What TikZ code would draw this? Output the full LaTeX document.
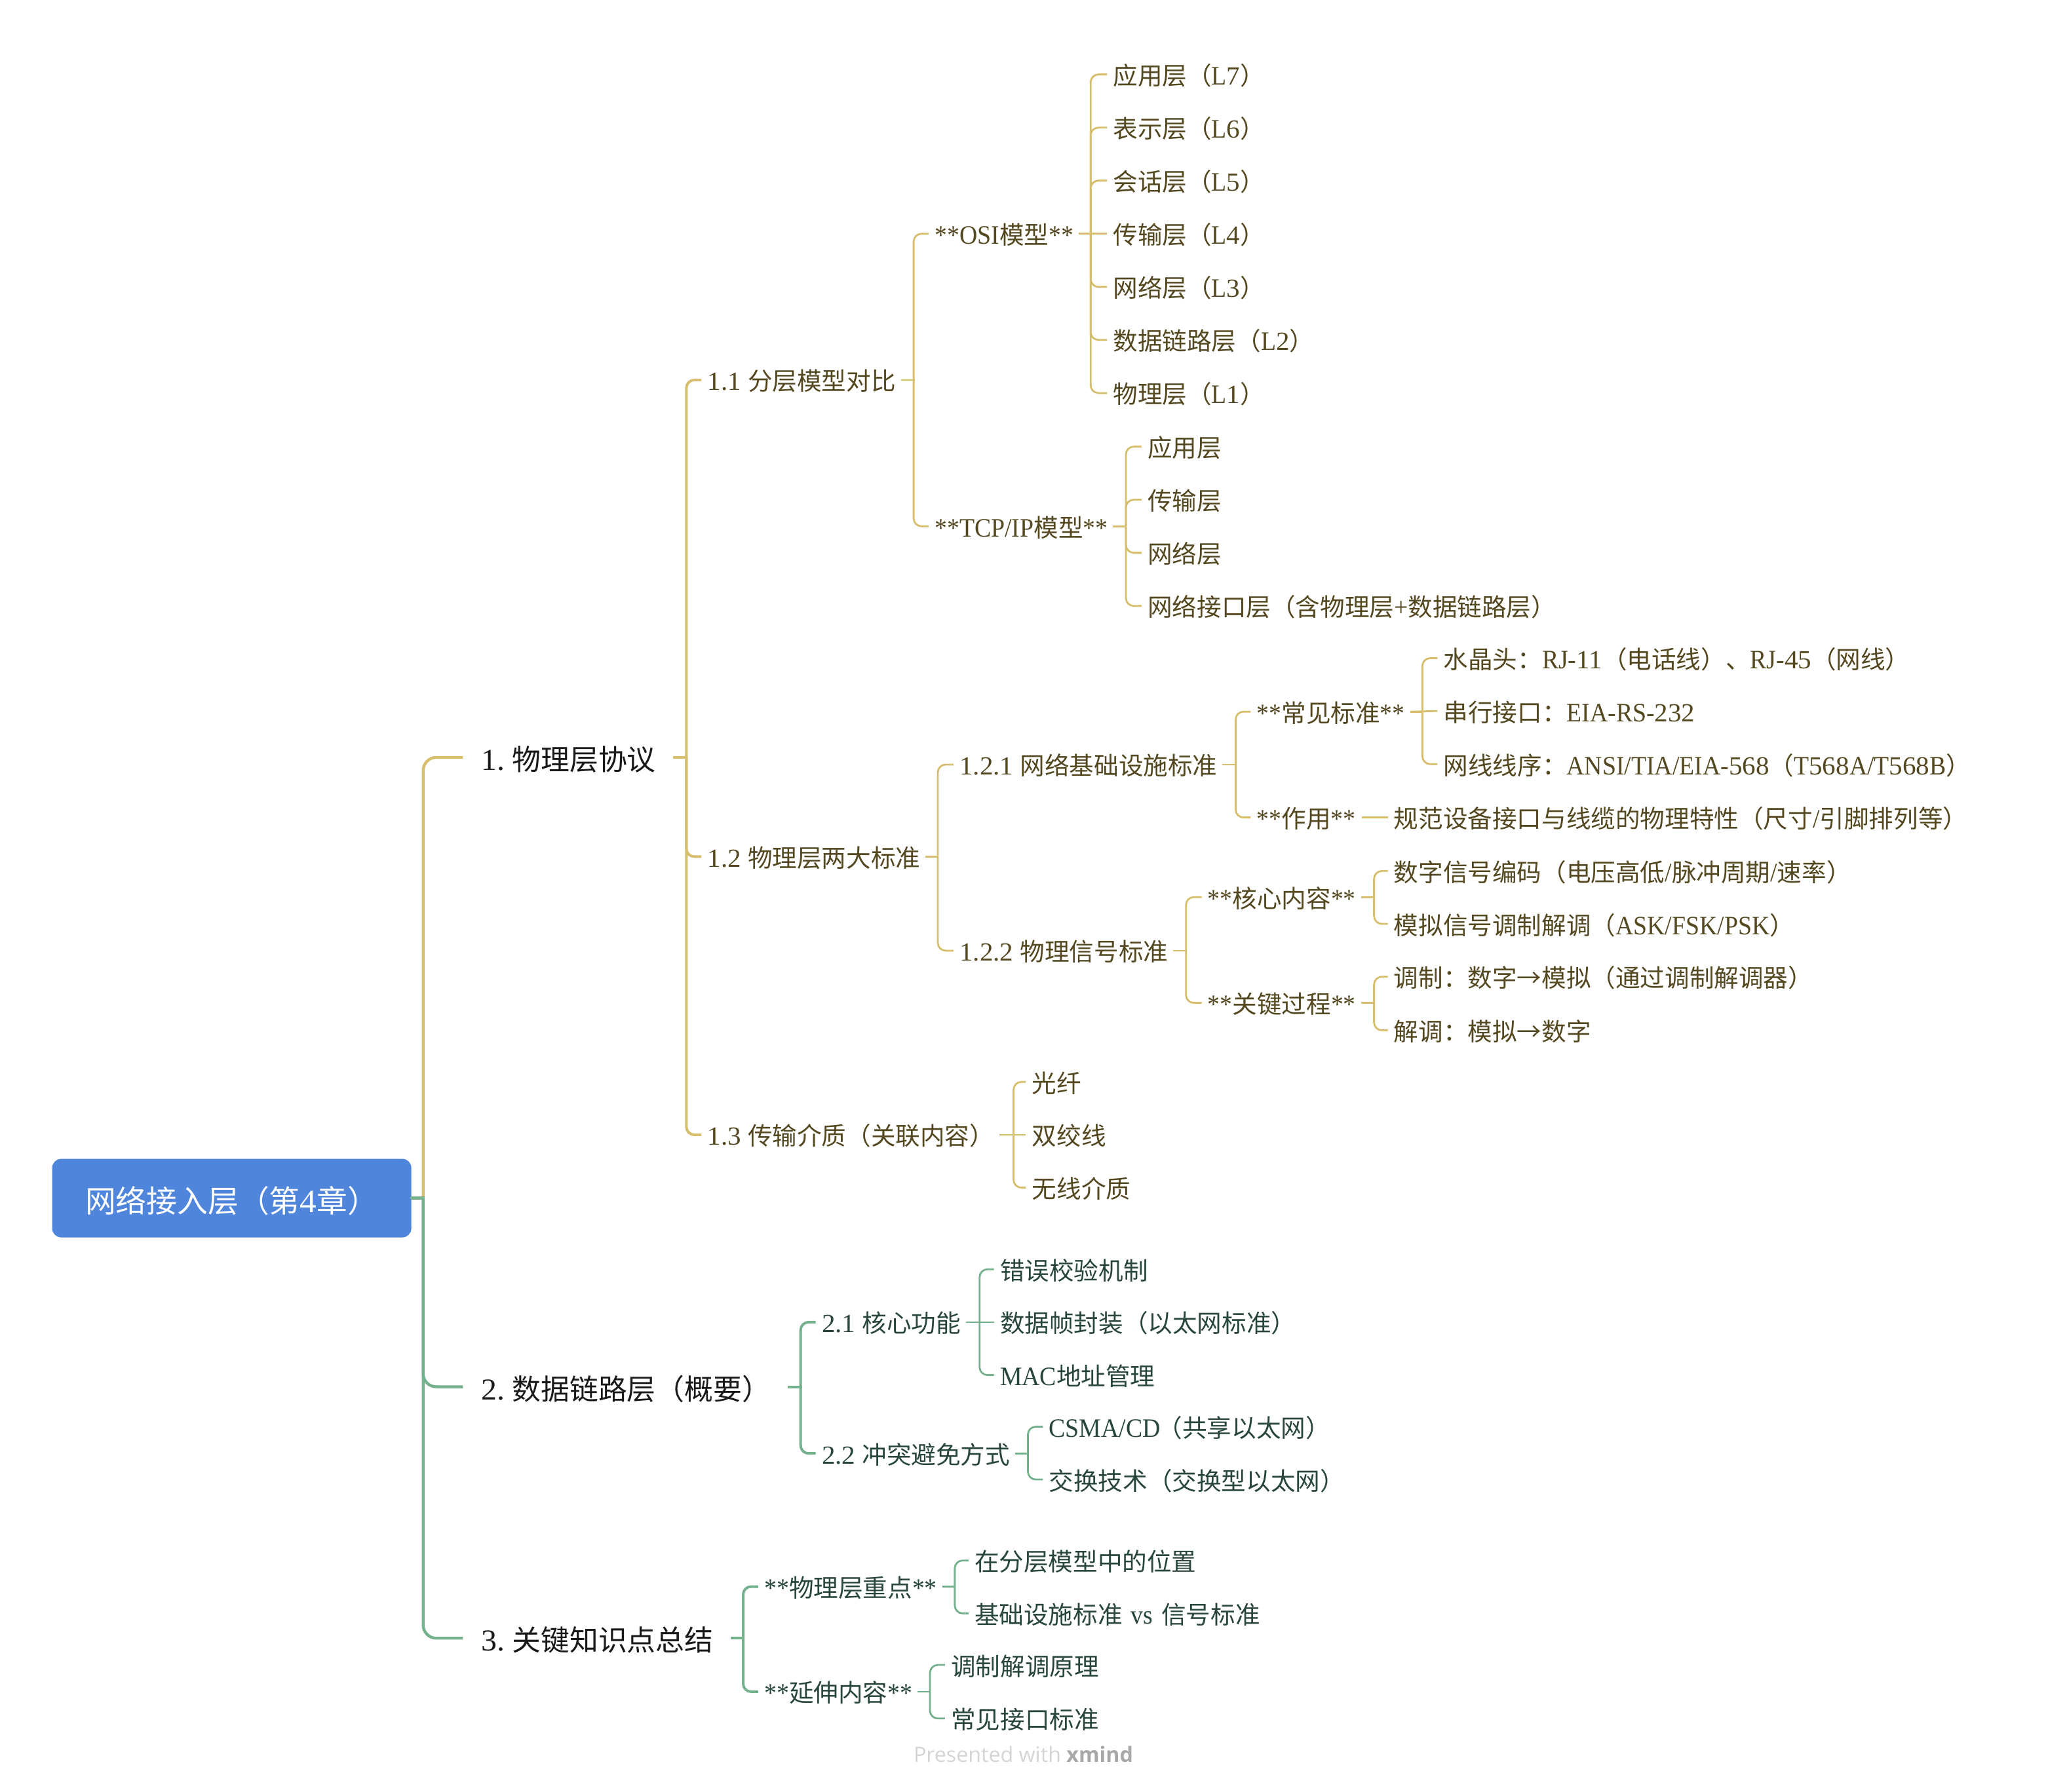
\documentclass[tikz,border=0pt]{standalone}
\usepackage{fontspec}
\setmainfont[Scale=1.08,FakeStretch=0.93]{Liberation Serif}
\newfontfamily\dgf[Scale=1.06,FakeStretch=1.03]{Liberation Serif}
\newfontfamily\cjkf{Noto Sans CJK SC}
\newfontfamily\wmf{Open Sans}
\newcommand\latf{\rmfamily}
\XeTeXinterchartokenstate=1
\newXeTeXintercharclass\cjkclass
\newXeTeXintercharclass\dgclass
\newcount\cc
\newcommand\setrange[3]{\cc=#1\relax\loop\XeTeXcharclass\cc=#3\relax\ifnum\cc<#2\relax\advance\cc by 1\relax\repeat}
\setrange{"4E00}{"9FFF}{\cjkclass}
\setrange{"3000}{"303F}{\cjkclass}
\setrange{"FF00}{"FFEF}{\cjkclass}
\setrange{"2192}{"2192}{\cjkclass}
\setrange{"30}{"39}{\dgclass}
\setrange{"2E}{"2E}{\dgclass}
\XeTeXinterchartoks 0 \cjkclass={\cjkf}
\XeTeXinterchartoks \cjkclass 0={\latf}
\XeTeXinterchartoks 4095 \cjkclass={\cjkf}
\XeTeXinterchartoks 4095 0={\latf}
\XeTeXinterchartoks 4095 \dgclass={\dgf}
\XeTeXinterchartoks 0 \dgclass={\dgf}
\XeTeXinterchartoks \dgclass 0={\latf}
\XeTeXinterchartoks \dgclass \cjkclass={\cjkf}
\XeTeXinterchartoks \cjkclass \dgclass={\dgf}
\definecolor{yl}{HTML}{D6BE6C}
\definecolor{gr}{HTML}{74B18C}
\definecolor{ytx}{HTML}{534820}
\definecolor{gtx}{HTML}{28473A}
\definecolor{rootc}{HTML}{4F86DC}
\tikzset{
  x=0.99649pt,y=-0.99649pt,
  txt/.style={anchor=west,inner ysep=0pt,inner xsep=4.5pt,xshift=-4.5pt,text height=18pt,text depth=2pt,font=\fontsize{18.8}{22}\selectfont},
  yt/.style={txt,text=ytx},
  gt/.style={txt,text=gtx},
  top/.style={anchor=west,inner ysep=0pt,inner xsep=14pt,xshift=-14pt,text height=21.6pt,text depth=2pt,font=\fontsize{21.9}{25}\selectfont,text=black!90},
  rootn/.style={anchor=west,fill=rootc,rounded corners=7pt,text=white,inner xsep=25.3pt,inner ysep=0pt,minimum height=60pt,text height=21.5pt,text depth=0pt,font=\fontsize{23.4}{27}\selectfont},
  yA/.style={draw=yl,line width=2.2pt,rad/.style={rounded corners=10pt}},
  gA/.style={draw=gr,line width=2.2pt,rad/.style={rounded corners=10pt}},
  yB/.style={draw=yl,line width=2pt,rad/.style={rounded corners=6pt}},
  gB/.style={draw=gr,line width=2pt,rad/.style={rounded corners=6pt}},
  yC/.style={draw=yl,line width=1.4pt,rad/.style={rounded corners=6pt}},
  gC/.style={draw=gr,line width=1.4pt,rad/.style={rounded corners=6pt}},
}
\newcommand\lk[4]{\draw[#1,line cap=rect] (#2.east) -- (#2.east -| #3);\draw[#1,rad] (#2.east -| #3) -- (#4.west -| #3) -- (#4.west);}
\newcommand\lkk[3]{\draw[#1] (#2.east) -- (#3.west);}
\begin{document}
\begin{tikzpicture}
\useasboundingbox (0,0) rectangle (1568,1372);
% spine positions
\coordinate (sT) at (324,0);
\coordinate (s1) at (525.5,0);
\coordinate (s11) at (699.5,0);
\coordinate (sO) at (835,0);
\coordinate (sI) at (862,0);
\coordinate (s12) at (718,0);
\coordinate (s121) at (946,0);
\coordinate (sS) at (1089,0);
\coordinate (s122) at (908,0);
\coordinate (sK) at (1052,0);
\coordinate (s13) at (776,0);
\coordinate (s2) at (613,0);
\coordinate (s21) at (750,0);
\coordinate (s22) at (787,0);
\coordinate (s3) at (569,0);
\coordinate (s31) at (731,0);
\coordinate (s32) at (712,0);
% root
\node[rootn] (root) at (39.7,917.5) {\makebox[223.5pt][l]{网络接入层（第4章）}};
% top level
\node[top] (n1) at (368.5,580) {1.\kern-2.5pt{} 物理层协议};
\node[top] (n2) at (368.5,1062) {2.\kern-2.5pt{} 数据链路层（概要）};
\node[top] (n3) at (368.5,1254.5) {3.\kern-2.5pt{} 关键知识点总结};
% 1.x
\node[yt] (n11) at (541.5,291) {1.1 分层模型对比};
\node[yt] (n12) at (541.5,656) {1.2 物理层两大标准};
\node[yt] (n13) at (541.5,869) {1.3 传输介质（关联内容）};
\node[yt] (osi) at (715.5,179) {**OSI模型**};
\node[yt] (tcp) at (715.5,403) {**TCP/IP模型**};
\node[yt] (o7) at (852,57) {应用层（L7）};
\node[yt] (o6) at (852,97.7) {表示层（L6）};
\node[yt] (o5) at (852,138.3) {会话层（L5）};
\node[yt] (o4) at (852,179) {传输层（L4）};
\node[yt] (o3) at (852,219.7) {网络层（L3）};
\node[yt] (o2) at (852,260.3) {数据链路层（L2）};
\node[yt] (o1) at (852,301) {物理层（L1）};
\node[yt] (t4) at (878.5,342) {应用层};
\node[yt] (t3) at (878.5,382.7) {传输层};
\node[yt] (t2) at (878.5,423.3) {网络层};
\node[yt] (t1) at (878.5,464) {网络接口层（含物理层+数据链路层）};
\node[yt] (n121) at (734.5,585.5) {1.2.1 网络基础设施标准};
\node[yt] (n122) at (734.5,728) {1.2.2 物理信号标准};
\node[yt] (std) at (962,545) {**常见标准**};
\node[yt] (role) at (962,626) {**作用**};
\node[yt] (s1a) at (1105,504) {水晶头：RJ-11（电话线）、RJ-45（网线）};
\node[yt] (s1b) at (1105,544.5) {串行接口：EIA-RS-232};
\node[yt] (s1c) at (1105,585.2) {网线线序：ANSI/TIA/EIA-568（T568A/T568B）};
\node[yt] (r1) at (1067,626) {规范设备接口与线缆的物理特性（尺寸/引脚排列等）};
\node[yt] (core) at (924.5,687) {**核心内容**};
\node[yt] (key) at (924.5,768) {**关键过程**};
\node[yt] (c1) at (1067,667) {数字信号编码（电压高低/脉冲周期/速率）};
\node[yt] (c2) at (1067,707.5) {模拟信号调制解调（ASK/FSK/PSK）};
\node[yt] (k1) at (1067,748) {调制：数字→模拟（通过调制解调器）};
\node[yt] (k2) at (1067,789) {解调：模拟→数字};
\node[yt] (m1) at (790,828.5) {光纤};
\node[yt] (m2) at (790,869) {双绞线};
\node[yt] (m3) at (790,909.5) {无线介质};
% 2.x
\node[gt] (n21) at (629,1012.5) {2.1 核心功能};
\node[gt] (n22) at (629,1113) {2.2 冲突避免方式};
\node[gt] (f1) at (765.5,972) {错误校验机制};
\node[gt] (f2) at (765.5,1012.5) {数据帧封装（以太网标准）};
\node[gt] (f3) at (765.5,1053) {MAC地址管理};
\node[gt] (a1) at (803,1092.5) {CSMA/CD\kern-2pt{}（共享以太网）};
\node[gt] (a2) at (803,1133) {交换技术（交换型以太网）};
% 3.x
\node[gt] (p1) at (585,1215) {**物理层重点**};
\node[gt] (p2) at (585,1295.5) {**延伸内容**};
\node[gt] (q1) at (746,1195) {在分层模型中的位置};
\node[gt] (q2) at (746,1235.5) {基础设施标准 \kern2pt vs \kern2pt 信号标准};
\node[gt] (q3) at (728,1275) {调制解调原理};
\node[gt] (q4) at (728,1316) {常见接口标准};
% watermark
\node[anchor=center,inner sep=0pt,text=black!17,font=\fontsize{16.1}{18}\selectfont] (wm) at (783.5,1343.5) {\XeTeXinterchartokenstate=0 \wmf Presented with \textcolor{black!34}{\bfseries xmind}};
% connectors
\lk{yA}{root}{sT}{n1}
\lk{gA}{root}{sT}{n2}
\lk{gA}{root}{sT}{n3}
\lk{yB}{n1}{s1}{n11}
\lk{yB}{n1}{s1}{n12}
\lk{yB}{n1}{s1}{n13}
\lk{yC}{n11}{s11}{osi}
\lk{yC}{n11}{s11}{tcp}
\lk{yC}{osi}{sO}{o7}
\lk{yC}{osi}{sO}{o6}
\lk{yC}{osi}{sO}{o5}
\lkk{yC}{osi}{o4}
\lk{yC}{osi}{sO}{o3}
\lk{yC}{osi}{sO}{o2}
\lk{yC}{osi}{sO}{o1}
\lk{yC}{tcp}{sI}{t4}
\lk{yC}{tcp}{sI}{t3}
\lk{yC}{tcp}{sI}{t2}
\lk{yC}{tcp}{sI}{t1}
\lk{yC}{n12}{s12}{n121}
\lk{yC}{n12}{s12}{n122}
\lk{yC}{n121}{s121}{std}
\lk{yC}{n121}{s121}{role}
\lk{yC}{std}{sS}{s1a}
\lkk{yC}{std}{s1b}
\lk{yC}{std}{sS}{s1c}
\lkk{yC}{role}{r1}
\lk{yC}{n122}{s122}{core}
\lk{yC}{n122}{s122}{key}
\lk{yC}{core}{sK}{c1}
\lk{yC}{core}{sK}{c2}
\lk{yC}{key}{sK}{k1}
\lk{yC}{key}{sK}{k2}
\lk{yC}{n13}{s13}{m1}
\lkk{yC}{n13}{m2}
\lk{yC}{n13}{s13}{m3}
\lk{gB}{n2}{s2}{n21}
\lk{gB}{n2}{s2}{n22}
\lk{gC}{n21}{s21}{f1}
\lkk{gC}{n21}{f2}
\lk{gC}{n21}{s21}{f3}
\lk{gC}{n22}{s22}{a1}
\lk{gC}{n22}{s22}{a2}
\lk{gB}{n3}{s3}{p1}
\lk{gB}{n3}{s3}{p2}
\lk{gC}{p1}{s31}{q1}
\lk{gC}{p1}{s31}{q2}
\lk{gC}{p2}{s32}{q3}
\lk{gC}{p2}{s32}{q4}
\end{tikzpicture}
\end{document}
